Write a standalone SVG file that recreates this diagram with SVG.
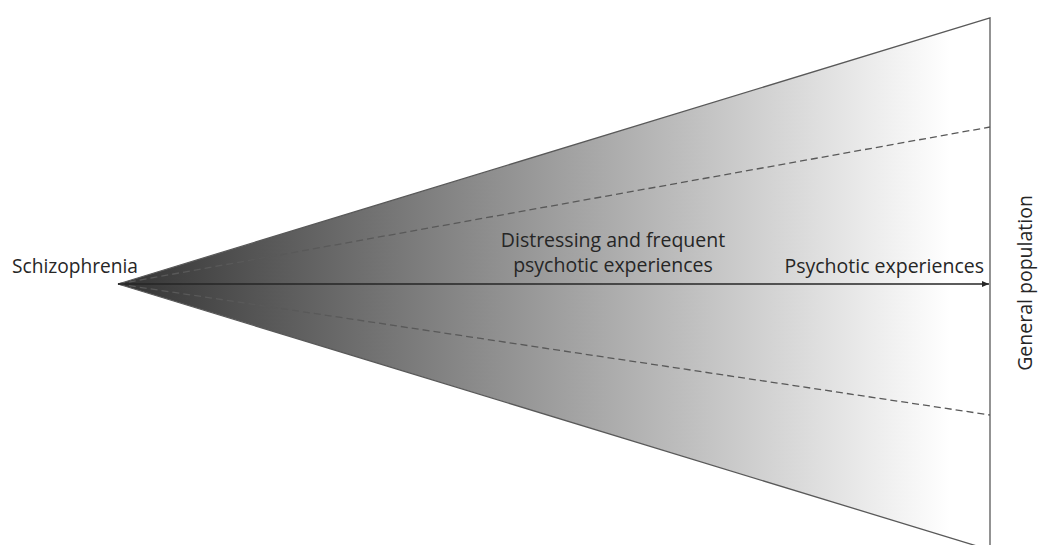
<svg xmlns="http://www.w3.org/2000/svg" width="1038" height="545" viewBox="0 0 1038 545">
  <style>
    .lbl { font-family: "Open Sans", "Liberation Sans", sans-serif; font-size: 19.5px; fill: #262626; }
    .edge { fill: none; stroke: #595959; stroke-width: 1.3; }
    .dash { fill: none; stroke: #595959; stroke-width: 1.3; stroke-dasharray: 7 4; }
  </style>
  <defs>
    <linearGradient id="fade" gradientUnits="userSpaceOnUse" x1="118" y1="0" x2="950" y2="0">
      <stop offset="0" stop-color="#333333"/>
      <stop offset="1" stop-color="#ffffff"/>
    </linearGradient>
    <marker id="arrow" markerWidth="8" markerHeight="8" refX="7" refY="4" orient="auto" markerUnits="userSpaceOnUse">
      <path d="M0,1 L7,4 L0,7 Z" fill="#262626"/>
    </marker>
  </defs>
  <rect width="1038" height="545" fill="#ffffff"/>
  <g id="cone">
    <path d="M118,284 L990,18 L990,550 Z" fill="url(#fade)"/>
  </g>
  <g id="connectors">
    <path class="edge" d="M118,284 L990,18 L990,550"/>
    <path class="edge" d="M118,284 L990,550"/>
    <path class="dash" d="M118,284 L990,127"/>
    <path class="dash" d="M118,284 L990,415"/>
    <path d="M118,284 L989,284" stroke="#262626" stroke-width="1.3" marker-end="url(#arrow)"/>
  </g>
  <g id="schizophrenia">
    <text class="lbl" x="12" y="273" textLength="126" lengthAdjust="spacingAndGlyphs">Schizophrenia</text>
  </g>
  <g id="distressing">
    <text class="lbl" x="613" y="247" text-anchor="middle">Distressing and frequent</text>
    <text class="lbl" x="613" y="272" text-anchor="middle">psychotic experiences</text>
  </g>
  <g id="psychotic">
    <text class="lbl" x="984" y="273" text-anchor="end">Psychotic experiences</text>
  </g>
  <g id="general">
    <text class="lbl" transform="translate(1032,283) rotate(-90)" text-anchor="middle">General population</text>
  </g>
</svg>
